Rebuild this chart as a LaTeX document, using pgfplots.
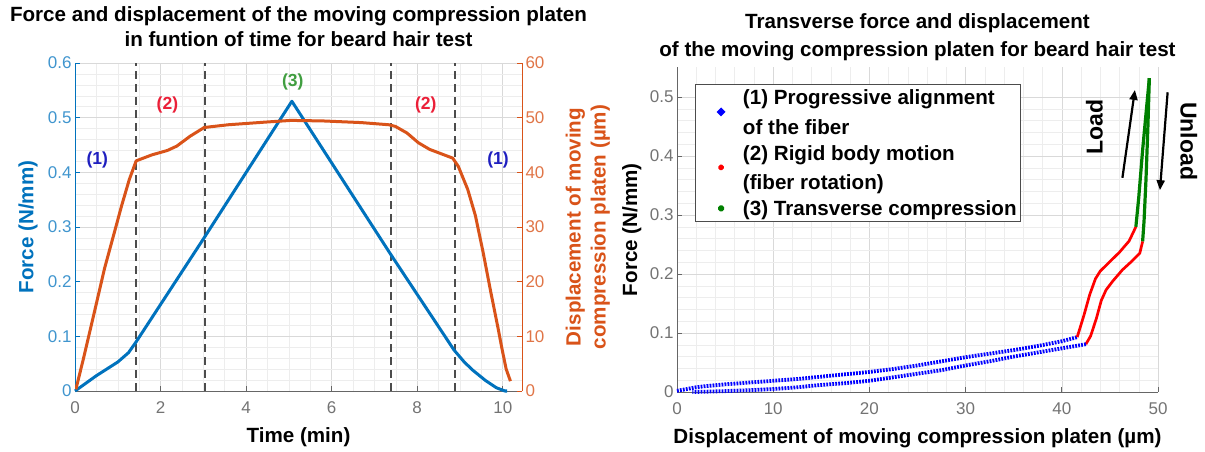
\documentclass[border=0pt]{standalone}
\usepackage{fontspec}
\setmainfont{Liberation Sans}
\usepackage{pgfplots}
\pgfplotsset{compat=1.18}
\usetikzlibrary{arrows.meta}

\definecolor{mblue}{rgb}{0,0.447,0.741}
\definecolor{morange}{rgb}{0.85,0.325,0.098}
\definecolor{tickgray}{gray}{0.45}
\definecolor{lab1}{rgb}{0.12,0.12,0.75}
\definecolor{lab2}{rgb}{0.92,0.12,0.22}
\definecolor{lab3}{rgb}{0.25,0.62,0.25}

\newcommand\tfont{\fontsize{20.6bp}{25.5bp}\selectfont\bfseries}
\newcommand\lfont{\fontsize{20.6bp}{25bp}\selectfont\bfseries}
\newcommand\kfont{\fontsize{17bp}{20bp}\selectfont}
\newcommand\nfont{\fontsize{17.5bp}{20bp}\selectfont\bfseries}

\pgfplotsset{
  mat/.style={
    scale only axis,
    grid=both,
    major grid style={black!15, line width=0.6bp},
    minor grid style={black!7, line width=0.5bp},
    tick align=inside,
    major tick length=5bp,
    minor tick length=0pt,
    axis line style={black!60, line width=0.8bp, -},
    every tick/.style={black!60, line width=0.8bp},
    tick label style={font=\kfont, text=tickgray},
    xticklabel style={yshift=-7bp},
    /pgf/number format/assume math mode=true,
    label style={font=\lfont},
    title style={font=\tfont, align=center, at={(axis description cs:0.5,1)},
                 anchor=center, yshift=30.5bp},
    xlabel style={at={(axis description cs:0.5,0)}, anchor=center, yshift=-46bp},
  },
  vline/.style={black!70, line width=1.6bp, dash pattern=on 8bp off 5bp, forget plot},
  dotdown/.style={legend image code/.code={\path (0,0) (40bp,0);
      \fill[##1, solid] (22bp,-14bp) circle (1.8bp);}},
  dotmid/.style={legend image code/.code={\path (0,0) (40bp,0);
      \fill[##1, solid] (22bp,0) circle (1.8bp);}},
}

\begin{document}
\begin{tikzpicture}
\path[use as bounding box] (0,0) rectangle (1205bp,452bp);

% ---------- left: force and displacement vs time ----------
\begin{axis}[mat,
  at={(75bp,61bp)}, anchor=south west, width=447bp, height=328bp,
  xmin=0, xmax=10.45, ymin=0, ymax=0.6,
  axis x line*=bottom, axis y line*=left,
  y axis line style={mblue},
  ytick style={mblue},
  xtick={0,2,4,6,8,10}, ytick={0,0.1,0.2,0.3,0.4,0.5,0.6},
  minor x tick num=3, minor y tick num=4,
  yticklabel style={text=mblue!75},
  xlabel={Time (min)},
  ylabel={Force (N/mm)},
  ylabel style={text=mblue, at={(axis description cs:-0.105,0.5)}, anchor=center},
  title={Force and displacement of the moving compression platen\\in funtion of time for beard hair test},
  clip=false,
]
\addplot[vline] coordinates {(1.43,0) (1.43,0.6)};
\addplot[vline] coordinates {(3.04,0) (3.04,0.6)};
\addplot[vline] coordinates {(7.39,0) (7.39,0.6)};
\addplot[vline] coordinates {(8.88,0) (8.88,0.6)};
\addplot[mblue, line width=3bp, line join=round] coordinates {
  (0,0) (0.5,0.028) (1.0,0.053) (1.25,0.07) (1.43,0.09) (3.05,0.284)
  (5.07,0.53) (7.38,0.25) (8.86,0.075) (9.1,0.053) (9.3,0.038)
  (9.6,0.019) (9.85,0.006) (10.05,0) (10.1,0)
};
\node[font=\nfont, text=lab1] at (axis cs:0.52,0.423) {(1)};
\node[font=\nfont, text=lab1] at (axis cs:9.89,0.423) {(1)};
\node[font=\nfont, text=lab2] at (axis cs:2.16,0.523) {(2)};
\node[font=\nfont, text=lab2] at (axis cs:8.2,0.523) {(2)};
\node[font=\nfont, text=lab3] at (axis cs:5.09,0.566) {(3)};
\end{axis}

\begin{axis}[mat,
  at={(75bp,61bp)}, anchor=south west, width=447bp, height=328bp,
  xmin=0, xmax=10.45, ymin=0, ymax=60,
  grid=none,
  axis x line=none, axis y line*=right,
  y axis line style={morange},
  ytick style={morange},
  ytick={0,10,20,30,40,50,60},
  yticklabel style={text=morange!80},
  ylabel={Displacement of moving\\compression platen (µm)},
  ylabel style={text=morange, align=center, at={(axis description cs:1.147,0.5)},
                anchor=center},
]
\addplot[morange, line width=3bp, line join=round] coordinates {
  (0.02,0.3) (0.2,6) (0.47,15) (0.69,22.4) (0.92,29) (1.09,33.9) (1.27,38.7)
  (1.43,42.1) (1.8,43.2) (2.16,44) (2.38,44.8) (2.69,46.6) (3.02,48.2)
  (3.58,48.7) (4.47,49.2) (5.05,49.5) (5.8,49.4) (6.69,49.1) (7.34,48.7)
  (7.49,48.4) (7.76,47.2) (8.03,45.4) (8.29,44.2) (8.83,42.6) (8.96,41.1)
  (9.18,36.9) (9.36,32.1) (9.54,25.4) (9.72,18.1) (9.89,11.5) (9.98,7.8)
  (10.08,4) (10.18,1.8)
};
\end{axis}

% ---------- right: force vs displacement ----------
\begin{axis}[mat,
  at={(677bp,60bp)}, anchor=south west, width=481bp, height=324.5bp,
  xmin=0, xmax=50, ymin=0, ymax=0.55,
  axis x line*=bottom, axis y line*=left,
  xtick={0,10,20,30,40,50}, ytick={0,0.1,0.2,0.3,0.4,0.5},
  minor x tick num=4, minor y tick num=4,
  xlabel={Displacement of moving compression platen (µm)},
  ylabel={Force (N/mm)},
  ylabel style={at={(axis description cs:-0.094,0.5)}, anchor=center},
  title={Transverse force and displacement\\of the moving compression platen for beard hair test},
  title style={yshift=-6bp, font=\fontsize{20.6bp}{27.5bp}\selectfont\bfseries},
  clip=false,
  legend style={at={(rel axis cs:0.037,0.948)}, anchor=north west,
    draw=black!70, line width=0.8bp, fill=white, font=\lfont,
    cells={anchor=west}, nodes={inner ysep=4.4bp},
    inner xsep=2bp, inner ysep=0.5bp, row sep=0bp},
]
\addplot[blue, line width=3.8bp, dash pattern=on 1.8bp off 1.2bp, dotdown] coordinates {
  (0,0.002) (1,0.005) (2,0.008) (3,0.010) (5,0.013) (7.5,0.016) (10,0.019)
  (12.5,0.022) (15,0.026) (17.5,0.030) (20,0.034) (22.5,0.039) (25,0.045)
  (27.5,0.052) (30,0.059) (32.5,0.065) (35,0.071) (37.5,0.078) (40,0.086)
  (41.6,0.093)
};
\addlegendentry{(1) Progressive alignment}
\addlegendimage{empty legend}
\addlegendentry{of the fiber}
\addplot[red, line width=2.7bp, line join=round, dotdown] coordinates {
  (41.6,0.093) (42.3,0.13) (42.9,0.165) (43.5,0.192) (44.0,0.205) (45,0.221)
  (46,0.237) (47,0.256) (47.7,0.28)
};
\addlegendentry{(2) Rigid body motion}
\addlegendimage{empty legend}
\addlegendentry{(fiber rotation)}
\addplot[black!50!green, line width=3.2bp, line join=round, dotmid] coordinates {
  (47.7,0.28) (48.0,0.33) (48.4,0.41) (48.8,0.48) (49.1,0.532)
};
\addlegendentry{(3) Transverse compression}
\addplot[black!50!green, line width=3.2bp, line join=round, forget plot] coordinates {
  (49.1,0.532) (48.95,0.45) (48.75,0.36) (48.55,0.29) (48.4,0.255)
};
\addplot[red, line width=2.7bp, line join=round, forget plot] coordinates {
  (48.4,0.255) (48.1,0.235) (47.3,0.222) (46.3,0.207) (45.3,0.188) (44.6,0.173)
  (44.1,0.155) (43.6,0.125) (43.0,0.095) (42.5,0.081)
};
\addplot[blue, line width=3.8bp, dash pattern=on 1.8bp off 1.2bp, forget plot] coordinates {
  (42.5,0.081) (40,0.074) (37.5,0.067) (35,0.060) (32.5,0.052) (30,0.045)
  (27.5,0.037) (25,0.031) (22.5,0.025) (20,0.019) (17.5,0.015) (15,0.012)
  (12.5,0.008) (10,0.005) (7.5,0.003) (5,0.0015) (3,0.0005) (1.6,0)
};
\draw[-{Triangle[length=10bp,width=8bp]}, line width=2.2bp]
  (axis cs:46.3,0.363) -- (axis cs:47.6,0.512);
\draw[-{Triangle[length=10bp,width=8bp]}, line width=2.2bp]
  (axis cs:51.0,0.508) -- (axis cs:50.2,0.342);
\node[rotate=90, font=\fontsize{23bp}{26bp}\selectfont\bfseries] at (axis cs:43.4,0.449) {Load};
\node[rotate=-90, font=\fontsize{23bp}{26bp}\selectfont\bfseries] at (axis cs:53.2,0.425) {Unload};
\end{axis}
\end{tikzpicture}
\end{document}
